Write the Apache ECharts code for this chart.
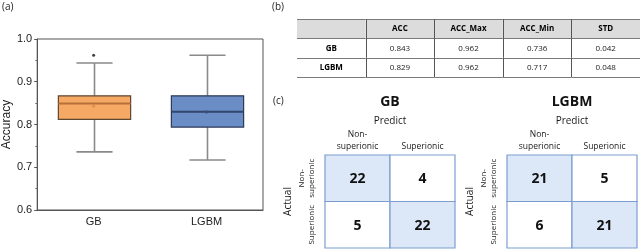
<!DOCTYPE html>
<html>
<head>
<meta charset="utf-8">
<script src="https://cdn.jsdelivr.net/npm/echarts@6/dist/echarts.min.js"></script>
<style>html,body{margin:0;padding:0;background:#fff}#c{width:640px;height:251px}</style>
</head>
<body>
<div id="c"></div>
<script>
// ---------- data ----------
var boxCategories = ['GB', 'LGBM'];
var gbStats = [0.736, 0.812, 0.849, 0.867, 0.944];     // min, Q1, median, Q3, max
var lgbmStats = [0.717, 0.794, 0.830, 0.867, 0.962];
var boxMeans = [0.843, 0.829];
var boxOutliers = [[0, 0.962]];
var yTicks = [0.6, 0.7, 0.8, 0.9, 1.0];

var tableColumns = ['', 'ACC', 'ACC_Max', 'ACC_Min', 'STD'];
var tableRows = ['GB', 'LGBM'];
var accValues = [0.843, 0.829];
var accMaxValues = [0.962, 0.962];
var accMinValues = [0.736, 0.717];
var stdValues = [0.042, 0.048];

var cmLabels = ['Non-\nsuperionic', 'Superionic'];
var cmGB = [[22, 4], [5, 22]];
var cmLGBM = [[21, 5], [6, 21]];

// ---------- styles ----------
var boxFill = ['#F5A964', '#6A8DC6'];
var boxBorder = ['#5E4630', '#2B3A57'];
var boxMedian = ['#B8703A', '#33466B'];
var meanColor = ['#D98A4A', '#3A4C70'];
var calFont = '"Open Sans", Lato, sans-serif';
var arialFont = '"Liberation Sans", Arial, sans-serif';

// ---------- build ----------
var boxData = [[0].concat(gbStats), [1].concat(lgbmStats)];

var tableCells = [];
tableColumns.forEach(function (c, ci) { tableCells.push({ col: ci, row: 0, text: c, header: true, bold: true }); });
var cols = [accValues, accMaxValues, accMinValues, stdValues];
tableRows.forEach(function (r, ri) {
  tableCells.push({ col: 0, row: ri + 1, text: r, header: false, bold: true });
  cols.forEach(function (arr, ci) {
    tableCells.push({ col: ci + 1, row: ri + 1, text: arr[ri].toFixed(3), header: false, bold: false });
  });
});

function cmData(m) {
  var d = [];
  for (var r = 0; r < 2; r++) for (var c = 0; c < 2; c++) d.push([c, r, m[r][c]]);
  return d;
}

function boxRender(params, api) {
  var xi = api.value(0);
  var i = params.dataIndex;
  var pMin = api.coord([xi, api.value(1)]);
  var pQ1 = api.coord([xi, api.value(2)]);
  var pMed = api.coord([xi, api.value(3)]);
  var pQ3 = api.coord([xi, api.value(4)]);
  var pMax = api.coord([xi, api.value(5)]);
  var bw = api.size([1, 0])[0] * 0.64;
  var cx = Math.round(pMed[0]) + 0.5;
  var wl = { stroke: '#8A8A8A', lineWidth: 1.6 };
  return {
    type: 'group',
    children: [
      { type: 'line', shape: { x1: cx, y1: pMax[1], x2: cx, y2: pQ3[1] }, style: wl },
      { type: 'line', shape: { x1: cx, y1: pQ1[1], x2: cx, y2: pMin[1] }, style: wl },
      { type: 'line', shape: { x1: cx - bw / 4, y1: pMax[1], x2: cx + bw / 4, y2: pMax[1] }, style: wl },
      { type: 'line', shape: { x1: cx - bw / 4, y1: pMin[1], x2: cx + bw / 4, y2: pMin[1] }, style: wl },
      { type: 'rect', shape: { x: cx - bw / 2, y: pQ3[1], width: bw, height: pQ1[1] - pQ3[1] },
        style: { fill: boxFill[i], stroke: boxBorder[i], lineWidth: 1.2 } },
      { type: 'line', shape: { x1: cx - bw / 2, y1: pMed[1], x2: cx + bw / 2, y2: pMed[1] },
        style: { stroke: boxMedian[i], lineWidth: 2 } }
    ]
  };
}

function tableRender(params, api) {
  var cell = tableCells[params.dataIndex];
  var p = api.coord([api.value(0), api.value(1)]);
  var s = api.size([1, 1]);
  var x0 = p[0] - s[0] / 2, x1 = p[0] + s[0] / 2;
  var y0 = p[1] - s[1] / 2, y1 = p[1] + s[1] / 2;
  var yb = Math.round(y1) + 0.5, yt = Math.round(y0) + 0.5, xl = Math.round(x0) + 0.5;
  var ch = [];
  if (cell.header) ch.push({ type: 'rect', shape: { x: x0, y: y0, width: s[0], height: s[1] }, style: { fill: '#DCDCDC' } });
  ch.push({ type: 'line', shape: { x1: x0, y1: yb, x2: x1, y2: yb }, style: { stroke: '#7A7A7A', lineWidth: 1 } });
  if (cell.row === 0) ch.push({ type: 'line', shape: { x1: x0, y1: yt, x2: x1, y2: yt }, style: { stroke: '#7A7A7A', lineWidth: 1 } });
  if (cell.col > 0) ch.push({ type: 'line', shape: { x1: xl, y1: y0, x2: xl, y2: y1 }, style: { stroke: '#555', lineWidth: 1 } });
  ch.push({ type: 'text', x: p[0], y: p[1] + 0.5,
    style: { text: cell.text, align: 'center', verticalAlign: 'middle',
      font: (cell.bold ? 'bold ' : '') + '8px ' + calFont, fill: cell.bold ? '#000' : '#222' } });
  return { type: 'group', children: ch };
}

function cmRender(params, api) {
  var c = api.value(0), r = api.value(1), v = api.value(2);
  var p = api.coord([c, r]);
  var s = api.size([1, 1]);
  return {
    type: 'group',
    children: [
      { type: 'rect', shape: { x: p[0] - s[0] / 2, y: p[1] - s[1] / 2, width: s[0], height: s[1] },
        style: { fill: c === r ? '#DCE7F7' : '#FFFFFF', stroke: '#7D9DD0', lineWidth: 1.2 } },
      { type: 'text', x: p[0], y: p[1] + 1,
        style: { text: String(v), align: 'center', verticalAlign: 'middle', font: 'bold 14px ' + calFont, fill: '#111' } }
    ]
  };
}

function cmXAxis(gi) {
  return {
    type: 'category', gridIndex: gi, position: 'top', data: cmLabels,
    axisLine: { show: false }, axisTick: { show: false },
    axisLabel: { fontFamily: calFont, fontSize: 8.5, lineHeight: 11.5, color: '#1a1a1a', margin: 3, interval: 0 },
    name: 'Predict', nameLocation: 'middle', nameGap: 29,
    nameTextStyle: { fontFamily: calFont, fontSize: 10, color: '#1a1a1a' }
  };
}
function cmYAxis(gi) {
  return {
    type: 'category', gridIndex: gi, inverse: true, data: cmLabels,
    axisLine: { show: false }, axisTick: { show: false },
    axisLabel: { fontFamily: calFont, fontSize: 8, lineHeight: 10.5, color: '#1a1a1a', margin: 8, rotate: 90, interval: 0, align: 'center', verticalAlign: 'bottom' },
    name: 'Actual', nameLocation: 'middle', nameGap: 32, nameRotate: 90,
    nameTextStyle: { fontFamily: calFont, fontSize: 10, color: '#1a1a1a' }
  };
}

var option = {
  animation: false,
  backgroundColor: '#fff',
  grid: [
    { left: 33, top: 39, width: 230, height: 171, show: true, borderColor: '#555', borderWidth: 1, backgroundColor: 'transparent' },
    { left: 297, top: 19, width: 343, height: 58 },
    { left: 325, top: 155, width: 130, height: 93 },
    { left: 507, top: 155, width: 130, height: 93 }
  ],
  xAxis: [
    { type: 'category', gridIndex: 0, data: boxCategories, boundaryGap: true,
      axisLine: { lineStyle: { color: '#555' } },
      axisTick: { alignWithLabel: true, length: 3, lineStyle: { color: '#555' } },
      axisLabel: { fontFamily: arialFont, fontSize: 11, color: '#222', margin: 6 } },
    { type: 'category', gridIndex: 1, data: tableColumns, show: false },
    cmXAxis(2), cmXAxis(3)
  ],
  yAxis: [
    { type: 'value', gridIndex: 0, min: yTicks[0], max: yTicks[yTicks.length - 1], interval: 0.1,
      axisLine: { show: true, lineStyle: { color: '#555' } },
      axisTick: { show: true, length: 3, lineStyle: { color: '#555' } },
      minorTick: { show: true, splitNumber: 2, length: 2, lineStyle: { color: '#777' } },
      splitLine: { show: false },
      axisLabel: { fontFamily: arialFont, fontSize: 11, color: '#222', margin: 5, formatter: function (v) { return v.toFixed(1); } },
      name: 'Accuracy', nameLocation: 'middle', nameGap: 20,
      nameTextStyle: { fontFamily: arialFont, fontSize: 12, color: '#222' } },
    { type: 'category', gridIndex: 1, data: ['header'].concat(tableRows), inverse: true, show: false },
    cmYAxis(2), cmYAxis(3)
  ],
  series: [
    { type: 'custom', xAxisIndex: 0, yAxisIndex: 0, data: boxData, renderItem: boxRender,
      encode: { x: 0, y: [1, 2, 3, 4, 5] }, z: 2 },
    { type: 'scatter', xAxisIndex: 0, yAxisIndex: 0, symbol: 'circle', symbolSize: 3,
      data: boxOutliers, itemStyle: { color: '#111' }, z: 4 },
    { type: 'scatter', xAxisIndex: 0, yAxisIndex: 0, symbol: 'diamond', symbolSize: 4,
      data: boxMeans.map(function (m, i) { return { value: [i, m], itemStyle: { color: meanColor[i] } }; }), z: 5 },
    { type: 'custom', xAxisIndex: 1, yAxisIndex: 1, renderItem: tableRender,
      data: tableCells.map(function (c) { return [c.col, c.row]; }) },
    { type: 'custom', xAxisIndex: 2, yAxisIndex: 2, renderItem: cmRender, data: cmData(cmGB) },
    { type: 'custom', xAxisIndex: 3, yAxisIndex: 3, renderItem: cmRender, data: cmData(cmLGBM) }
  ],
  graphic: [
    { type: 'text', x: 2, y: 7, style: { text: '(a)', font: '10px ' + calFont, fill: '#222', verticalAlign: 'middle' } },
    { type: 'text', x: 272, y: 7, style: { text: '(b)', font: '10px ' + calFont, fill: '#222', verticalAlign: 'middle' } },
    { type: 'text', x: 273, y: 101, style: { text: '(c)', font: '10px ' + calFont, fill: '#222', verticalAlign: 'middle' } },
    { type: 'text', x: 390, y: 102, style: { text: 'GB', font: 'bold 14px ' + calFont, fill: '#111', align: 'center', verticalAlign: 'middle' } },
    { type: 'text', x: 572, y: 102, style: { text: 'LGBM', font: 'bold 14px ' + calFont, fill: '#111', align: 'center', verticalAlign: 'middle' } }
  ]
};

var chart = echarts.init(document.getElementById('c'), null, { renderer: 'canvas' });
chart.setOption(option);
</script>
</body>
</html>
